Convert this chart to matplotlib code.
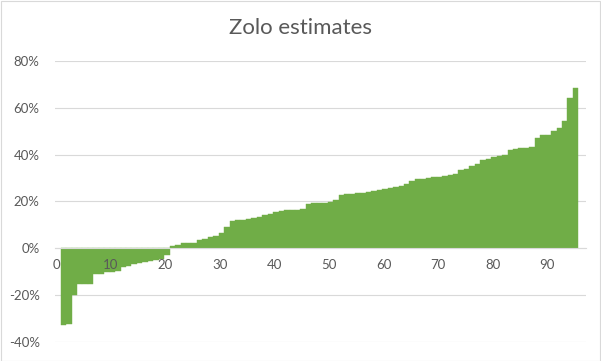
import matplotlib
matplotlib.use("Agg")
import matplotlib.pyplot as plt
from matplotlib.ticker import FuncFormatter
import numpy as np

title = "Zolo estimates"
values = [
    -33.0, -32.5, -20.0, -15.5, -15.3, -15.2, -11.2, -11.0, -10.2, -10.0,
    -9.8, -8.0, -7.6, -6.8, -6.5, -6.0, -5.7, -5.0, -4.7, -3.0,
    1.0, 1.3, 2.0, 2.2, 2.3, 3.4, 3.7, 4.6, 5.0, 6.5,
    8.9, 11.8, 12.0, 12.2, 12.4, 12.9, 13.5, 14.3, 14.8, 15.5,
    15.8, 16.1, 16.3, 16.5, 16.7, 19.0, 19.2, 19.3, 19.4, 19.9,
    20.6, 22.8, 23.0, 23.2, 23.4, 23.7, 23.9, 24.4, 24.8, 25.3,
    25.6, 26.2, 26.4, 27.6, 28.8, 29.4, 29.7, 29.9, 30.2, 30.6,
    30.8, 31.3, 31.9, 33.4, 33.7, 35.3, 36.1, 37.8, 38.3, 39.1,
    39.5, 39.7, 42.1, 42.3, 42.9, 43.0, 43.1, 46.9, 48.2, 48.5,
    50.2, 51.2, 54.2, 64.0, 68.3,
]
x_ticks = [0, 10, 20, 30, 40, 50, 60, 70, 80, 90]
y_ticks = [-40, -20, 0, 20, 40, 60, 80]

GREEN = "#70AD47"
GRID = "#D9D9D9"
TEXT = "#595959"
FONT = ["Lato", "DejaVu Sans"]

plt.rcParams["font.family"] = FONT

W, H = 601, 361
fig = plt.figure(figsize=(W / 100, H / 100), dpi=100)
fig.patch.set_facecolor("white")
# chart border
fig.add_artist(plt.Rectangle((0.5 / W, 0.5 / H), 1 - 1.5 / W, 1 - 1.5 / H,
                             transform=fig.transFigure, fill=False,
                             edgecolor=GRID, linewidth=0.8))

left, right = 55 / W, 586 / W
top, bottom = 1 - 61 / H, 1 - 341.7 / H
ax = fig.add_axes([left, bottom, right - left, top - bottom])

xs = np.arange(1, len(values) + 1)
ax.bar(xs + 0.25, values, width=1.0, color=GREEN, edgecolor=GREEN,
       linewidth=0.3, zorder=2)

ax.set_xlim(-0.28, 97.15)
ax.set_ylim(-40, 80)
ax.set_yticks(y_ticks)
ax.set_xticks(x_ticks)
ax.yaxis.set_major_formatter(FuncFormatter(lambda v, p: f"{int(v)}%"))

for yv in y_ticks:
    ax.axhline(yv, color=GRID, linewidth=0.8, zorder=0)

for s in ["top", "right", "left"]:
    ax.spines[s].set_visible(False)
ax.spines["bottom"].set_position(("data", 0))
ax.spines["bottom"].set_color(GRID)
ax.spines["bottom"].set_linewidth(0.8)
ax.spines["bottom"].set_zorder(3)
ax.xaxis.set_zorder(3)

ax.tick_params(axis="both", length=0, labelsize=9.5, labelcolor=TEXT)
ax.tick_params(axis="y", pad=11)
ax.tick_params(axis="x", pad=8)

fig.text(0.5, 1 - 28 / H, title, ha="center", va="center",
         fontsize=16, color=TEXT)

fig.savefig("out.png", dpi=100, facecolor="white")
